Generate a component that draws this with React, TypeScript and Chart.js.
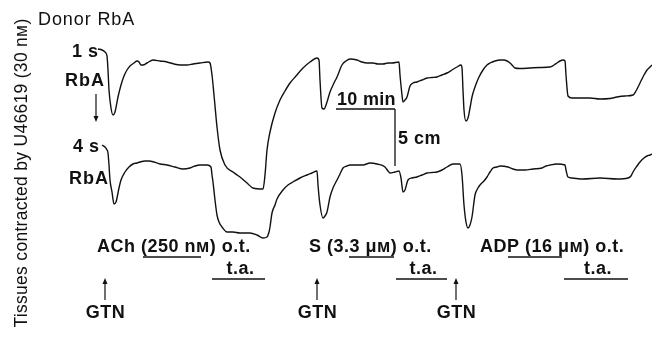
import React, { useEffect, useRef } from "react";
import { Chart, registerables } from "chart.js";

Chart.register(...registerables);

// Trace 1: donor RbA 1 s transit (time in chart units, tension in chart units, downward = relaxation)
const upperTime = [98,102,105,107,108,109,111,113,115,118,121,124,127,130,134,137,139,141,143,147,153,160,167,174,180,187,193,200,208,210,212,214,217,220,225,233,240,247,253,263,265,267,270,275,280,285,290,296,303,310,317,319,320,322,324,327,330,334,337,342,346,350,357,362,367,373,378,383,388,392,399,400,402,403,405,407,410,413,417,422,427,432,437,442,447,452,457,461,462,463,464,466,468,470,472,475,479,483,487,490,495,500,504,507,510,512,515,520,530,540,550,554,557,560,563,565,566,568,572,580,590,600,610,617,625,633,636,640,644,647,650,652];
const upperTension = [49,50,52,56,70,90,108,115,112,97,85,76,70,66,63,61,62,65,65,63,60,61,62,64,65,65,64,63,62,63,75,95,127,150,165,172,177,183,188,189,175,150,132,113,100,91,83,76,68,62,58,60,80,108,109,102,92,83,77,65,61,59,60,62,63,63,64,64,63,63,62,75,95,102,100,97,86,83,82,80,78,77.5,77,75,73,70,67,65,68,90,110,121,118,108,97,87,77,70,65,63,61,60,60,61,63,65,68,68.5,68,67.5,67,65,63,61,60,61,75,96,98,98,98,99,98.5,97,96,95,91,83,75,70,67,65];

// Trace 2: donor RbA 4 s transit
const lowerTime = [102,105,107,108,109,110,112,114,116,117,119,121,125,129,133,137,140,145,149,154,160,167,175,183,190,195,200,207,211,212,213,215,217,219,222,227,233,240,250,257,263,267,269,270,272,275,277,283,288,293,300,307,312,317,318,320,323,325,327,330,333,337,340,343,347,350,357,363,370,377,385,388,390,395,399,401,403,405,408,412,417,422,427,432,437,442,447,453,460,462,464,466,468,470,472,475,478,480,484,487,490,493,497,500,508,513,517,525,533,542,546,550,557,565,566,568,572,583,600,617,628,631,633,637,640,644,647,650,652];
const lowerTension = [145,147,150,153,165,180,192,204,202,198,188,180,172,167,164,163,162,161,161,162,164,165,167,169,168,166,165,165,167,175,182,200,215,222,227,232,232,233,233,235,238,237,232,227,213,205,199,190,185,182,178,175,173,171,185,205,218,216,212,197,188,180,174,168,166,165,165,165,163,164,167,171,173,172,171,178,192,190,180,178,177,175,173,172.5,172,170,167,164,164,175,205,222,228,225,217,195,188,185,181,177,172,168,167,166,167,169,170,170,169,168,166,165,164,165,170,177,178,179,178,179,178,176,172,166,162,158,156,155,154];

// Bottom event labels
const drugLabels = ["ACh (250 nм) o.t.", "S (3.3 μм) o.t.", "ADP (16 μм) o.t."];
const drugStart = [97, 309, 480];
const drugUnderline = [[143, 201], [349, 394], [508, 562]];
const taUnderline = [[212, 265], [396, 447], [564, 628]];
const gtnTimes = [105, 317, 456];

const FONT = '"Liberation Sans", Arial, Helvetica, sans-serif';

const annotations = {
  id: "annotations",
  afterDraw(chart: any) {
    const ctx: CanvasRenderingContext2D = chart.ctx;
    const xs = chart.scales.x;
    const ys = chart.scales.y;
    const X = (v: number) => xs.getPixelForValue(v);
    const Y = (v: number) => ys.getPixelForValue(v);
    ctx.save();
    ctx.fillStyle = "#111";
    ctx.strokeStyle = "#111";
    ctx.textBaseline = "alphabetic";

    const text = (s: string, x: number, y: number, bold: boolean, size: number, spacing: number, align: CanvasTextAlign = "left") => {
      ctx.font = `${bold ? "bold " : ""}${size}px ${FONT}`;
      (ctx as any).letterSpacing = `${spacing}px`;
      ctx.textAlign = align;
      ctx.fillText(s, X(x), Y(y));
    };
    const line = (x1: number, y1: number, x2: number, y2: number, w = 1.3) => {
      ctx.lineWidth = w;
      ctx.beginPath();
      ctx.moveTo(X(x1), Y(y1));
      ctx.lineTo(X(x2), Y(y2));
      ctx.stroke();
    };
    const arrowHead = (x: number, y: number, dir: number) => {
      ctx.beginPath();
      ctx.moveTo(X(x), Y(y));
      ctx.lineTo(X(x) - 2.5, Y(y) - dir * 6);
      ctx.lineTo(X(x) + 2.5, Y(y) - dir * 6);
      ctx.closePath();
      ctx.fill();
    };

    // title & rotated axis label
    text("Donor RbA", 38, 25, false, 18, 0.9);
    ctx.save();
    ctx.translate(X(27), Y(173));
    ctx.rotate(-Math.PI / 2);
    ctx.font = `17.5px ${FONT}`;
    (ctx as any).letterSpacing = "0.3px";
    ctx.textAlign = "center";
    ctx.fillText("Tissues contracted by U46619 (30 nм)", 0, 0);
    ctx.restore();

    // trace labels
    text("1 s", 72, 57, true, 18, 0.5);
    text("RbA", 65, 86, true, 18, 1);
    line(96, 94, 96, 116, 1.2);
    arrowHead(96, 122, 1);
    text("4 s", 73, 152, true, 18, 0.5);
    text("RbA", 69, 184, true, 18, 1);

    // scale bars
    text("10 min", 337, 105, true, 18, 0.3);
    line(336, 109, 395, 109);
    line(395, 109, 395, 166);
    text("5 cm", 398, 144, true, 18, 0.5);

    // drug labels
    drugLabels.forEach((s, i) => {
      text(s, drugStart[i], 252, true, 18, 0.5);
      line(drugUnderline[i][0], 257, drugUnderline[i][1], 257);
      const [a, b] = taUnderline[i];
      text("t.a.", (a + b) / 2 + 2, 274, true, 18, 0.5, "center");
      line(a, 279, b, 279);
    });

    // GTN arrows
    gtnTimes.forEach((t) => {
      line(t, 300, t, 284, 1.2);
      arrowHead(t, 278, -1);
      text("GTN", t + 0.5, 318, true, 18, 0.5, "center");
    });

    ctx.restore();
  },
};

export default function App() {
  const ref = useRef<HTMLCanvasElement>(null);
  useEffect(() => {
    document.body.style.margin = "0";
    const chart = new Chart(ref.current!, {
      type: "scatter",
      data: {
        datasets: [
          {
            label: "1 s RbA",
            data: upperTime.map((t, i) => ({ x: t, y: upperTension[i] })),
            showLine: true,
            borderColor: "#111",
            borderWidth: 1.4,
            pointRadius: 0,
            cubicInterpolationMode: "monotone",
          },
          {
            label: "4 s RbA",
            data: lowerTime.map((t, i) => ({ x: t, y: lowerTension[i] })),
            showLine: true,
            borderColor: "#111",
            borderWidth: 1.4,
            pointRadius: 0,
            cubicInterpolationMode: "monotone",
          },
        ],
      },
      options: {
        animation: false,
        responsive: false,
        layout: { padding: 0 },
        plugins: { legend: { display: false }, tooltip: { enabled: false } },
        scales: {
          x: { type: "linear", min: 0, max: 652, display: false },
          y: { type: "linear", min: 0, max: 346, reverse: true, display: false },
        },
      },
      plugins: [annotations],
    });
    return () => chart.destroy();
  }, []);
  return (
    <div style={{ position: "absolute", left: 0, top: 0, width: 652, height: 346, background: "#fff" }}>
      <canvas ref={ref} width={652} height={346} />
    </div>
  );
}
